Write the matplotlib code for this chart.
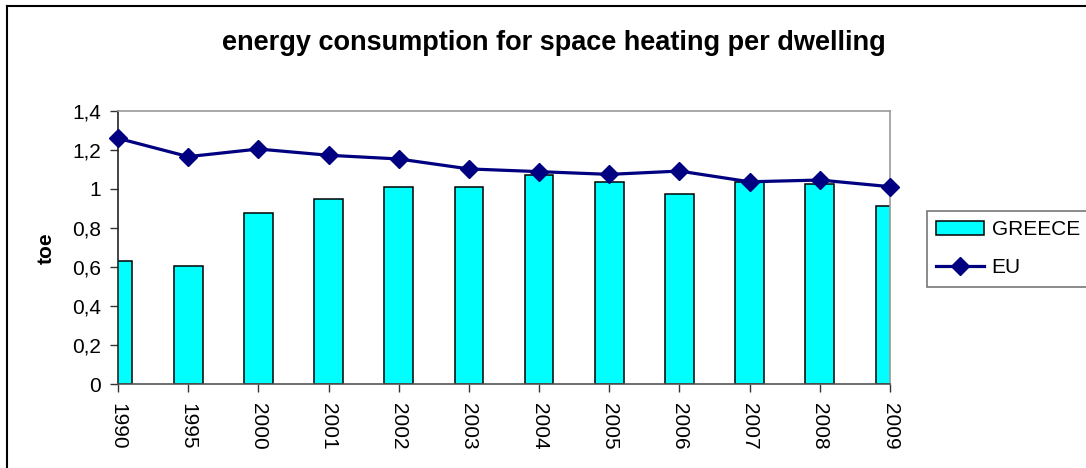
import numpy as np
import matplotlib.pyplot as plt
from matplotlib.lines import Line2D

plt.rcParams['font.family'] = ['Liberation Sans', 'DejaVu Sans']

years = ['1990', '1995', '2000', '2001', '2002', '2003',
         '2004', '2005', '2006', '2007', '2008', '2009']
greece = [0.632, 0.607, 0.878, 0.949, 1.009, 1.009,
          1.073, 1.037, 0.976, 1.034, 1.027, 0.914]
eu = [1.260, 1.166, 1.205, 1.173, 1.154, 1.103,
      1.089, 1.075, 1.092, 1.037, 1.046, 1.012]
yticks = [0, 0.2, 0.4, 0.6, 0.8, 1.0, 1.2, 1.4]
ytick_labels = ['0', '0,2', '0,4', '0,6', '0,8', '1', '1,2', '1,4']

FS = 15

fig = plt.figure(figsize=(10.86, 4.68), dpi=100)
ax = fig.add_axes([118/1086, 1-384/468, (890-118)/1086, (384-111)/468])

x = np.arange(len(years))
ax.bar(x, greece, width=0.41, color='#00FFFF', edgecolor='black', linewidth=1.1, zorder=2)
ax.plot(x, eu, color='#000080', lw=2.3, marker='D', markersize=9,
        clip_on=False, zorder=3)

ax.set_xlim(0, len(years) - 1)
ax.set_ylim(0, 1.4)
ax.set_yticks(yticks)
ax.set_yticklabels(ytick_labels, fontsize=FS)
ax.set_xticks(x)
ax.set_xticklabels(years, rotation=270, fontsize=FS)
ax.tick_params(axis='both', direction='out', length=6, width=1, color='#333333')
ax.tick_params(axis='y', pad=6)
ax.tick_params(axis='x', pad=8)

ax.spines['left'].set_color('#222222')
ax.spines['bottom'].set_color('#555555')
ax.spines['top'].set_color('#999999')
ax.spines['right'].set_color('#999999')
for s in ax.spines.values():
    s.set_linewidth(1.2)

fig.text(46/1086, 1-248/468, 'toe', rotation=90, ha='center', va='center',
         fontsize=FS, fontweight='bold')

fig.text(554/1086, 1-43/468, 'energy consumption for space heating per dwelling',
         ha='center', va='center', fontsize=19.5, fontweight='bold')

# chart frame: only top and left edges fall inside the image
fig.add_artist(Line2D([7/1086, 1], [1-6/468, 1-6/468], color='black', lw=1.5,
                      transform=fig.transFigure))
fig.add_artist(Line2D([7/1086, 7/1086], [0, 1-6/468], color='black', lw=1.5,
                      transform=fig.transFigure))

handles = [plt.Rectangle((0, 0), 1, 1, facecolor='#00FFFF', edgecolor='black', linewidth=1.1),
           Line2D([], [], color='#000080', lw=2.3, marker='D', markersize=9)]
leg = fig.legend(handles, ['GREECE', 'EU'], loc='upper left',
                 bbox_to_anchor=(927/1086, 1-211/468), fontsize=FS,
                 fancybox=False, edgecolor='#777777', framealpha=1,
                 borderpad=0.45, handlelength=2.3, handletextpad=0.35,
                 labelspacing=0.9, borderaxespad=0)
leg.get_frame().set_linewidth(1.2)

fig.savefig('out.png', dpi=100)
